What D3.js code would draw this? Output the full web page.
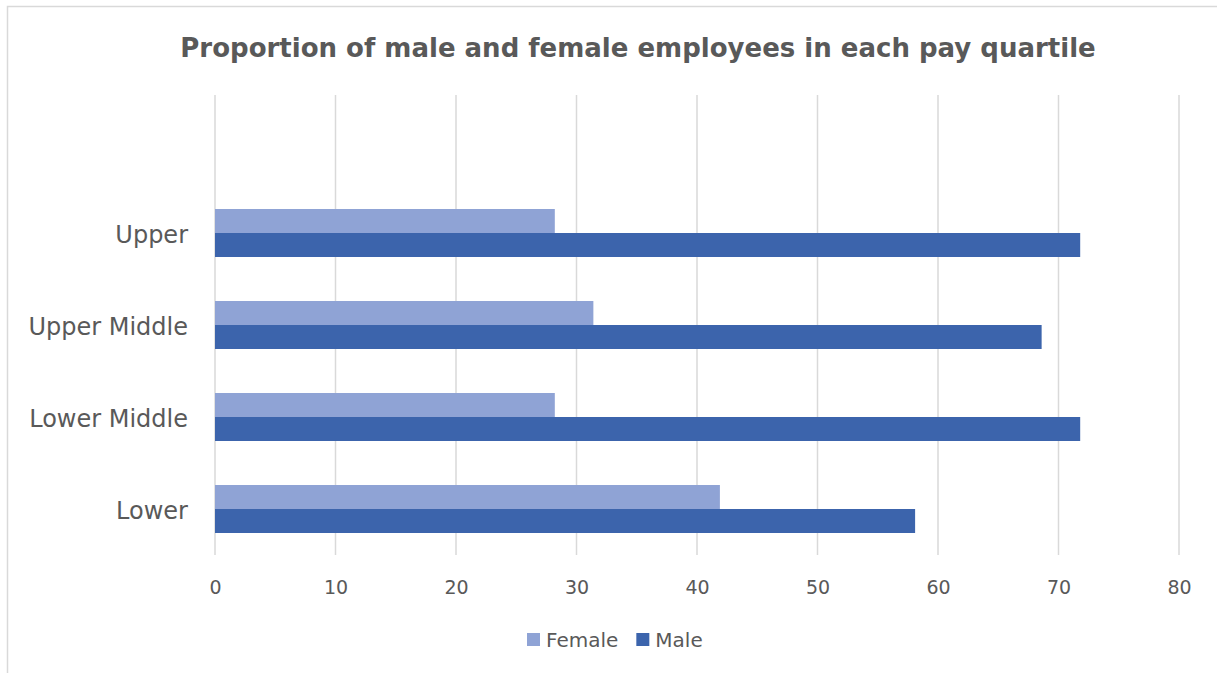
<!DOCTYPE html>
<html>
<head>
<meta charset="utf-8">
<script src="https://cdn.jsdelivr.net/npm/d3@7"></script>
<style>
  body { margin: 0; background: #fff; }
  svg { display: block; }
</style>
</head>
<body>
<script>
// quartile data
var categories = ['Upper', 'Upper Middle', 'Lower Middle', 'Lower']
var female = [28.2, 31.4, 28.2, 41.9]
var male = [71.8, 68.6, 71.8, 58.1]
var seriesNames = ['Female', 'Male']
var xTicks = [0, 10, 20, 30, 40, 50, 60, 70, 80]

var width = 1217
var height = 673
var colors = { Female: '#8fa3d5', Male: '#3c64ac' }
var textColor = '#595959'
var font = 'DejaVu Sans, Verdana, sans-serif'

var svg = d3.select('body').append('svg')
  .attr('width', width)
  .attr('height', height)

// chart frame (runs off the right/bottom edge)
svg.append('rect')
  .attr('x', 7.5)
  .attr('y', 6.5)
  .attr('width', width + 20)
  .attr('height', height + 20)
  .style('fill', '#fff')
  .style('stroke', '#d9d9d9')
  .style('stroke-width', 1.5)

svg.append('text')
  .attr('x', 638)
  .attr('y', 57)
  .attr('text-anchor', 'middle')
  .style('font-family', font)
  .style('font-weight', 'bold')
  .style('font-size', '26px')
  .style('fill', textColor)
  .text('Proportion of male and female employees in each pay quartile')

var plotTop = 95
var plotBottom = 555

var x = d3.scaleLinear()
  .domain([0, 80])
  .range([215, 1179])

// five slots in the plot, the top one stays empty
var y = d3.scaleBand()
  .domain(categories)
  .range([187, plotBottom])

var inner = d3.scaleBand()
  .domain(seriesNames)
  .range([0, y.bandwidth()])
  .paddingInner(0)
  .paddingOuter(0.917)

// gridlines
svg.append('g')
  .selectAll('line')
  .data(xTicks)
  .enter()
  .append('line')
  .attr('x1', (d) => { return x(d) })
  .attr('x2', (d) => { return x(d) })
  .attr('y1', plotTop)
  .attr('y2', plotBottom)
  .style('stroke', '#d9d9d9')
  .style('stroke-width', 1.5)

// x axis labels
var xAxis = svg.append('g')
  .attr('transform', 'translate(0,' + plotBottom + ')')
  .call(d3.axisBottom(x).tickValues(xTicks).tickSize(0).tickPadding(0))
xAxis.select('.domain').remove()
xAxis.selectAll('text')
  .attr('dy', 0)
  .attr('y', 39)
  .style('font-family', font)
  .style('font-size', '19px')
  .style('fill', textColor)

// category labels
var yAxis = svg.append('g')
  .attr('transform', 'translate(' + x(0) + ',0)')
  .call(d3.axisLeft(y).tickSize(0).tickPadding(27))
yAxis.select('.domain').remove()
yAxis.selectAll('text')
  .attr('dy', '0.4em')
  .style('font-family', font)
  .style('font-size', '24px')
  .style('fill', textColor)

var rows = categories.map((c, i) => {
  return { cat: c, Female: female[i], Male: male[i] }
})

var groups = svg.append('g')
  .selectAll('g')
  .data(rows)
  .enter()
  .append('g')
  .attr('transform', (d) => { return 'translate(0,' + y(d.cat) + ')' })

groups.selectAll('rect')
  .data((d) => { return seriesNames.map((s) => { return { key: s, value: d[s] } }) })
  .enter()
  .append('rect')
  .attr('x', x(0))
  .attr('y', (d) => { return inner(d.key) })
  .attr('width', (d) => { return x(d.value) - x(0) })
  .attr('height', inner.bandwidth())
  .style('fill', (d) => { return colors[d.key] })

// legend
var legend = svg.append('g')
var lx = 527
seriesNames.forEach((s) => {
  legend.append('rect')
    .attr('x', lx)
    .attr('y', 633)
    .attr('width', 13)
    .attr('height', 13)
    .style('fill', colors[s])
  var t = legend.append('text')
    .attr('x', lx + 19)
    .attr('y', 647)
    .style('font-family', font)
    .style('font-size', '20px')
    .style('fill', textColor)
    .text(s)
  lx += 19 + t.node().getComputedTextLength() + 18
})
</script>
</body>
</html>
